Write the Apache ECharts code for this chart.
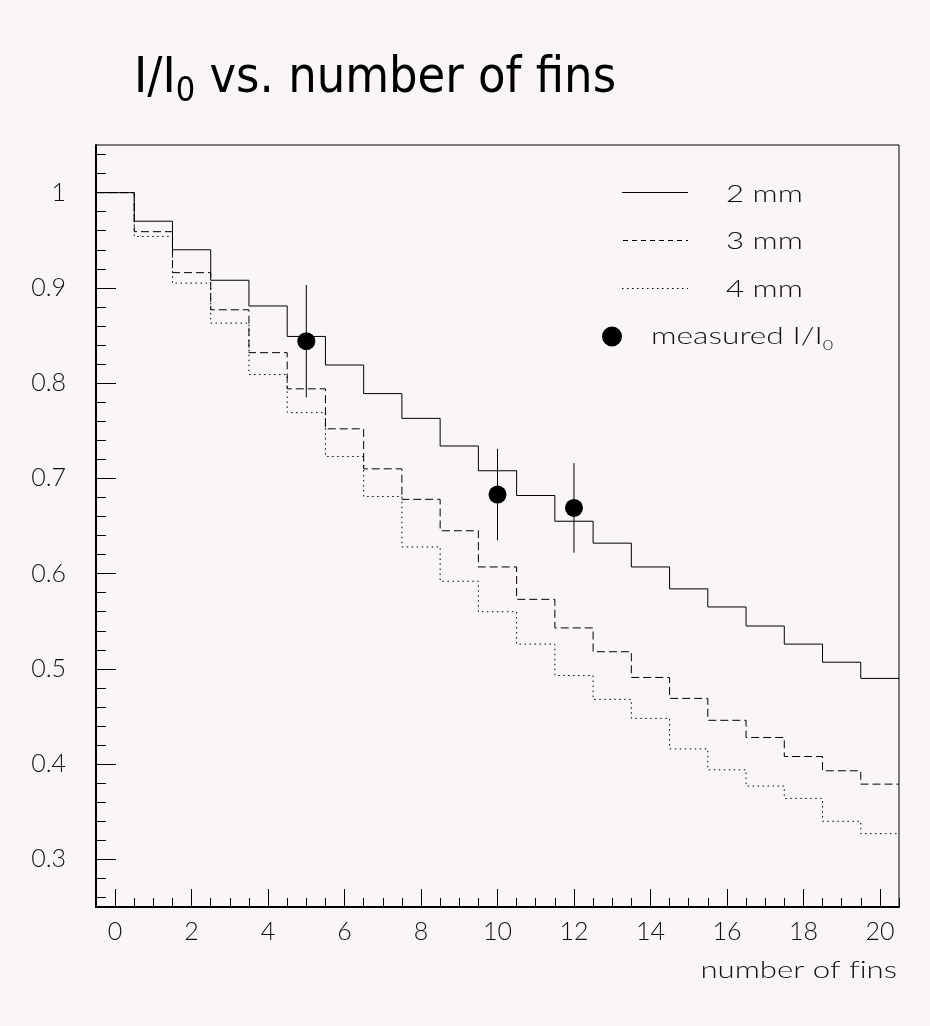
<!DOCTYPE html>
<html><head><meta charset="utf-8">
<script src="https://cdn.jsdelivr.net/npm/echarts@6/dist/echarts.min.js"></script>
<style>html,body{margin:0;padding:0;background:#f9f5f9}#c{width:930px;height:1026px}</style>
</head><body><div id="c"></div>
<script>
// ---- data ----
const fins = [0,1,2,3,4,5,6,7,8,9,10,11,12,13,14,15,16,17,18,19,20];
const ratio2mm = [1.000,0.970,0.940,0.908,0.881,0.849,0.819,0.789,0.763,0.734,0.708,0.682,0.655,0.632,0.607,0.584,0.565,0.545,0.526,0.507,0.490];
const ratio3mm = [1.000,0.959,0.916,0.877,0.832,0.794,0.752,0.710,0.678,0.645,0.607,0.573,0.543,0.518,0.491,0.469,0.446,0.428,0.408,0.393,0.379];
const ratio4mm = [1.000,0.954,0.905,0.863,0.809,0.769,0.723,0.681,0.628,0.592,0.560,0.526,0.493,0.468,0.448,0.416,0.394,0.377,0.364,0.340,0.327];
const measuredFins = [5,10,12];
const measuredRatio = [0.844,0.683,0.669];
const measuredErr = [0.059,0.048,0.047];
const xTickLabels = [0,2,4,6,8,10,12,14,16,18,20];
const yTickLabels = [0.3,0.4,0.5,0.6,0.7,0.8,0.9,1];

// ---- helpers ----
function histSteps(vals){
  const pts=[];
  vals.forEach((v,i)=>{ pts.push([fins[i]-0.5,v]); pts.push([fins[i]+0.5,v]); });
  return pts;
}
const xMinor=[]; for(let k=-1;k<=41;k++) xMinor.push(k/2);
const yMinor=[]; for(let k=13;k<=52;k++) yMinor.push(k/50);

const LBL = {fontFamily:'Lato', fontWeight:300, fontSize:25, color:'#111'};
const chart = echarts.init(document.getElementById('c'), null, {renderer:'canvas'});
const X0=96, Y0=145, W=803, H=762;
const SX = 1.3;

chart.setOption({
  backgroundColor:'#f9f5f9',
  animation:false,
  grid:{left:X0, top:Y0, width:W, height:H, show:true, borderColor:'#000', borderWidth:1, backgroundColor:'transparent'},
  xAxis:[
    {type:'value', min:-0.5, max:20.5, position:'bottom',
     axisLine:{show:true, onZero:false, lineStyle:{color:'#000', width:2}},
     axisTick:{show:true, inside:true, length:18, customValues:xTickLabels, lineStyle:{color:'#000', width:1}},
     axisLabel:{show:true, customValues:xTickLabels, margin:12, ...LBL},
     splitLine:{show:false}},
    {type:'value', min:-0.5, max:20.5, position:'bottom', gridIndex:0,
     axisLine:{show:false, onZero:false},
     axisTick:{show:true, inside:true, length:9, customValues:xMinor, lineStyle:{color:'#000', width:1}},
     axisLabel:{show:false}, splitLine:{show:false}}
  ],
  yAxis:[
    {type:'value', min:0.25, max:1.05, position:'left',
     axisLine:{show:true, onZero:false, lineStyle:{color:'#000', width:2}},
     axisTick:{show:true, inside:true, length:20, customValues:yTickLabels, lineStyle:{color:'#000', width:1}},
     axisLabel:{show:true, customValues:yTickLabels, margin:30, ...LBL},
     splitLine:{show:false}},
    {type:'value', min:0.25, max:1.05, position:'left', gridIndex:0,
     axisLine:{show:false, onZero:false},
     axisTick:{show:true, inside:true, length:10, customValues:yMinor, lineStyle:{color:'#000', width:1}},
     axisLabel:{show:false}, splitLine:{show:false}}
  ],
  series:[
    {name:'2 mm', type:'line', xAxisIndex:0, yAxisIndex:0, data:histSteps(ratio2mm), symbol:'none',
     lineStyle:{color:'#000', width:1, type:'solid'}, z:2},
    {name:'3 mm', type:'line', xAxisIndex:0, yAxisIndex:0, data:histSteps(ratio3mm), symbol:'none',
     lineStyle:{color:'#000', width:1, type:[8,4]}, z:2},
    {name:'4 mm', type:'line', xAxisIndex:0, yAxisIndex:0, data:histSteps(ratio4mm), symbol:'none',
     lineStyle:{color:'#000', width:1, type:[1.5,3.5]}, z:2},
    {name:'error', type:'custom', xAxisIndex:0, yAxisIndex:0,
     data: measuredFins.map((x,i)=>[x, measuredRatio[i], measuredErr[i]]),
     encode:{x:0, y:1},
     renderItem:(params, api)=>{
       const x=api.value(0), y=api.value(1), e=api.value(2);
       const p1=api.coord([x,y-e]), p2=api.coord([x,y+e]);
       return {type:'line', shape:{x1:p1[0],y1:p1[1],x2:p2[0],y2:p2[1]}, style:{stroke:'#000', lineWidth:1}};
     }, z:3},
    {name:'measured', type:'scatter', xAxisIndex:0, yAxisIndex:0,
     data: measuredFins.map((x,i)=>[x, measuredRatio[i]]),
     symbol:'circle', symbolSize:18, itemStyle:{color:'#000', opacity:1}, z:4}
  ],
  graphic:[
    // title
    {type:'text', x:134, y:49, scaleX:0.9, z:10,
     style:{text:'{m|I/I}{s|0}{m| vs. number of fins}', x:0, y:0,
       rich:{m:{fontFamily:'DejaVu Sans', fontSize:50, lineHeight:60, fill:'#000'},
             s:{fontFamily:'DejaVu Sans', fontSize:34, lineHeight:28, verticalAlign:'bottom', fill:'#000'}}}},
    // legend
    {type:'line', shape:{x1:622,y1:192.5,x2:688,y2:192.5}, style:{stroke:'#000', lineWidth:1}, z:10},
    {type:'line', shape:{x1:623,y1:240.5,x2:688,y2:240.5}, style:{stroke:'#000', lineWidth:1, lineDash:[5,4]}, z:10},
    {type:'line', shape:{x1:622,y1:288.5,x2:688,y2:288.5}, style:{stroke:'#000', lineWidth:1, lineDash:[1.5,3.5]}, z:10},
    {type:'circle', shape:{cx:612, cy:336.5, r:10}, style:{fill:'#000'}, z:10},
    {type:'text', x:726, y:194, scaleX:SX, z:10, style:{text:'2 mm', x:0, y:0, verticalAlign:'middle', font:'300 24px Lato', fill:'#111'}},
    {type:'text', x:726, y:241, scaleX:SX, z:10, style:{text:'3 mm', x:0, y:0, verticalAlign:'middle', font:'300 24px Lato', fill:'#111'}},
    {type:'text', x:726, y:289, scaleX:SX, z:10, style:{text:'4 mm', x:0, y:0, verticalAlign:'middle', font:'300 24px Lato', fill:'#111'}},
    {type:'text', x:651, y:322, scaleX:1.38, z:10,
     style:{text:'{a|measured I/I}{b|0}', x:0, y:0,
       rich:{a:{fontFamily:'Lato', fontWeight:300, fontSize:23, lineHeight:30, fill:'#111'},
             b:{fontFamily:'Lato', fontWeight:300, fontSize:13, lineHeight:14, verticalAlign:'bottom', fill:'#111'}}}},
    // x axis title
    {type:'text', x:897, y:970, scaleX:1.3, z:10,
     style:{text:'number of f\u200Cins', x:0, y:0, align:'right', verticalAlign:'middle', font:'300 24px Lato', fill:'#111'}}
  ]
});
</script></body></html>
